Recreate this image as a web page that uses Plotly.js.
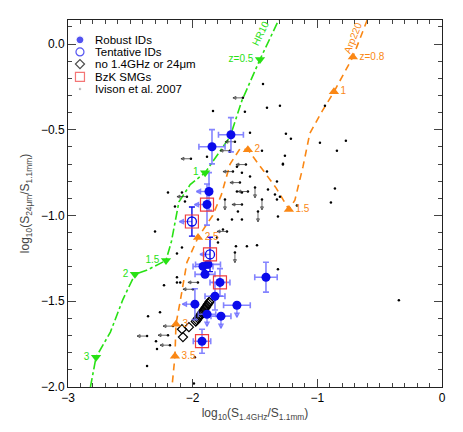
<!DOCTYPE html>
<html>
<head>
<meta charset="utf-8">
<script src="https://cdn.plot.ly/plotly-3.0.1.min.js"></script>
<style>body{margin:0;background:#fff}#chart{width:463px;height:432px}</style>
</head>
<body>
<div id="chart"></div>
<script>
// Robust IDs (blue filled), errors and limits
const robX = [-1.693,-1.845,-1.869,-1.885,-1.877,-1.917,-1.901,-1.781,-1.412,-1.821,-1.982,-1.645,-1.885,-1.773,-1.925];
const robY = [-0.529,-0.599,-0.860,-0.936,-1.285,-1.297,-1.343,-1.390,-1.360,-1.471,-1.517,-1.523,-1.576,-1.587,-1.733];
const robEx = [0.10,0.105,0,0,0.10,0.08,0.08,0.08,0.09,0.08,0,0.107,0.07,0.08,0.07];
const robEy = [0.10,0.10,0.11,0.12,0,0,0,0.08,0.087,0.08,0.09,0,0,0,0.07];
const robLeft = [0,0,0.1,0.1,0,0,0,0,0,0,0.1,0,0,0,0];
const robDown = [0,0,0,0,0,0,0,0,0,0,0,0.07,0.07,0.07,0];

// Tentative IDs (blue open)
const tenX = [-2.006,-1.861];
const tenY = [-1.035,-1.227];
const tenEy = [0.085,0.10];
const tenLeft = [0.1,0.08];

// BzK SMGs (red squares)
const bzkX = [-1.885,-1.781,-1.925,-2.006,-1.861];
const bzkY = [-0.936,-1.390,-1.733,-1.035,-1.227];

// no 1.4GHz or 24um (diamonds)
const diaX = [-1.975,-1.967,-1.958,-1.950,-1.942,-1.934,-1.926,-1.918,-1.909,-1.900,-1.892,-1.884,-1.875,-1.866,-1.856,-2.030,-2.086,-2.078];
const diaY = [-1.618,-1.610,-1.600,-1.594,-1.585,-1.576,-1.568,-1.560,-1.550,-1.541,-1.533,-1.524,-1.514,-1.505,-1.495,-1.651,-1.663,-1.709];

// Ivison et al. 2007
const ivX = [-1.436,-1.404,-1.300,-1.581,-1.837,-1.540,-1.252,-1.212,-0.979,-0.771,-0.843,-1.444,-1.276,-0.939,-0.859,-1.340,-0.891,-1.164,-0.346,-1.885,
  -2.302,-2.126,-2.230,-2.126,-2.358,-2.262,-2.294,-2.366,-2.086,-1.653,-1.484,-2.126,-2.100,-1.316,-2.286,-1.982,-1.990,
  -1.645,-1.605,-1.540,-1.645,-1.605,-1.637,-1.685,-1.797,-1.605,-1.757,-1.300,-1.324,-1.404,-1.396,-1.276,-1.260,-2.086,-2.062,-2.142,-1.797,-1.565,-1.805,-1.316,-1.324,-1.701,-2.198];
const ivY = [-0.233,-0.372,-0.360,-0.395,-0.390,-0.517,-0.523,-0.552,-0.576,-0.564,-0.622,-0.622,-0.698,-0.360,-0.843,-0.878,-0.924,-0.942,-1.494,-0.657,
  -1.093,-1.221,-1.407,-1.360,-1.587,-1.564,-1.733,-1.878,-1.186,-1.180,-1.174,-1.390,-1.390,-1.314,-1.779,-1.826,-1.980,
  -0.715,-0.750,-0.773,-0.860,-0.866,-0.977,-1.023,-1.023,-1.023,-1.081,-0.890,-0.802,-0.744,-0.849,-0.703,-0.651,-0.866,-0.919,-0.948,-1.157,-1.180,-1.128,-1.006,-0.907,-0.628,-0.866];
const ivLX = [-1.597,-1.661,-1.701,-2.014,-1.573,-1.605,-1.725,-1.621,-2.046,-1.958,-1.998,-2.366,-2.198,-2.182,-2.158,-1.677,-1.557];
const ivLY = [-0.314,-0.570,-0.622,-0.669,-0.703,-0.936,-1.093,-0.808,-0.890,-1.390,-1.430,-1.703,-1.698,-1.756,-1.645,-0.744,-0.860];
const ivDX = [-1.500,-1.741,-1.476,-1.661,-1.444];
const ivDY = [-0.837,-0.907,-0.977,-1.215,-0.907];

// HR10 track (green) and redshift markers
const hrX = [-2.82,-2.775,-2.66,-2.56,-2.463,-2.37,-2.214,-2.17,-2.11,-2.02,-1.90,-1.70,-1.605,-1.46,-1.31];
const hrY = [-2.0,-1.826,-1.68,-1.49,-1.343,-1.32,-1.262,-1.15,-0.92,-0.82,-0.75,-0.54,-0.33,-0.09,0.14];
const hrZx = [-1.46,-1.90,-2.214,-2.463,-2.775];
const hrZy = [-0.09,-0.75,-1.262,-1.343,-1.826];
const hrZ = ['z=0.5','1','1.5','2','3'];

// Arp220 track (orange) and redshift markers
const arpX = [-0.60,-0.715,-0.867,-0.96,-1.06,-1.115,-1.18,-1.228,-1.33,-1.45,-1.557,-1.62,-1.70,-1.77,-1.84,-1.957,-2.046,-2.10,-2.134,-2.142,-2.166];
const arpY = [0.14,-0.076,-0.279,-0.39,-0.52,-0.715,-0.91,-0.965,-0.84,-0.72,-0.616,-0.61,-0.70,-0.88,-1.0,-1.128,-1.273,-1.50,-1.634,-1.82,-2.0];
const arpZx = [-0.715,-0.867,-1.228,-1.557,-1.957,-2.134,-2.142];
const arpZy = [-0.076,-0.279,-0.965,-0.616,-1.128,-1.634,-1.82];
const arpZ = ['z=0.8','1','1.5','2','2.5','3','3.5'];

const blue = 'rgb(10,10,235)';
const errBlue = 'rgba(110,110,255,0.85)';
const green = 'rgb(40,225,20)';
const orange = 'rgb(250,135,20)';

function leftLimits(xs, ys, lens, color, th, head) {
  let px = [], py = [], pl = [];
  xs.forEach((x, i) => { if (lens[i] > 0) { px.push(x); py.push(ys[i]); pl.push(lens[i]); } });
  return [
    {x: px, y: py, mode: 'markers', marker: {size: 1, opacity: 0}, hoverinfo: 'skip', showlegend: false,
     error_x: {type: 'data', symmetric: false, array: pl.map(() => 0), arrayminus: pl, width: 0, color: color, thickness: th}},
    {x: px.map((x, i) => x - pl[i]), y: py, mode: 'markers', showlegend: false, hoverinfo: 'skip',
     marker: {symbol: 'arrow-left-open', size: head, color: color, line: {color: color, width: th}}}
  ];
}
function downLimits(xs, ys, lens, color, th, head) {
  let px = [], py = [], pl = [];
  xs.forEach((x, i) => { if (lens[i] > 0) { px.push(x); py.push(ys[i]); pl.push(lens[i]); } });
  return [
    {x: px, y: py, mode: 'markers', marker: {size: 1, opacity: 0}, hoverinfo: 'skip', showlegend: false,
     error_y: {type: 'data', symmetric: false, array: pl.map(() => 0), arrayminus: pl, width: 0, color: color, thickness: th}},
    {x: px, y: py.map((y, i) => y - pl[i]), mode: 'markers', showlegend: false, hoverinfo: 'skip',
     marker: {symbol: 'arrow-down-open', size: head, color: color, line: {color: color, width: th}}}
  ];
}

var data = [
  {x: hrX, y: hrY, mode: 'lines', line: {color: green, width: 1.6, dash: 'dashdot'}, showlegend: false},
  {x: arpX, y: arpY, mode: 'lines', line: {color: orange, width: 1.6, dash: '7px,5px'}, showlegend: false},
  {x: ivX, y: ivY, mode: 'markers', marker: {size: 2.5, color: 'black'}, showlegend: false},
  {x: ivLX, y: ivLY, mode: 'markers', marker: {size: 2.5, color: 'black'}, showlegend: false},
  {x: ivDX, y: ivDY, mode: 'markers', marker: {size: 2.5, color: 'black'}, showlegend: false},
  ...leftLimits(ivLX, ivLY, ivLX.map(() => 0.08), 'rgb(40,40,40)', 0.7, 3),
  ...downLimits(ivDX, ivDY, ivDX.map(() => 0.06), 'rgb(40,40,40)', 0.7, 3),
  {x: diaX, y: diaY, mode: 'markers', showlegend: false,
   marker: {symbol: 'diamond-open', size: 7, color: 'black', line: {width: 1.2}}},
  ...leftLimits(robX, robY, robLeft, errBlue, 1.4, 4),
  ...downLimits(robX, robY, robDown, errBlue, 1.4, 4),
  ...leftLimits(tenX, tenY, tenLeft, errBlue, 1.4, 4),
  {x: robX, y: robY, mode: 'markers', showlegend: false,
   error_x: {type: 'data', array: robEx, width: 3, color: errBlue, thickness: 1.6},
   error_y: {type: 'data', array: robEy, width: 3, color: errBlue, thickness: 1.6},
   marker: {size: 9, color: blue}},
  {x: tenX, y: tenY, mode: 'markers', showlegend: false,
   error_y: {type: 'data', array: tenEy, width: 3, color: blue, thickness: 1.4},
   marker: {symbol: 'circle-open', size: 9, color: blue, line: {width: 1.3}}},
  {x: bzkX, y: bzkY, mode: 'markers', showlegend: false,
   marker: {symbol: 'square-open', size: 13, color: 'rgb(240,60,60)', line: {width: 1.2}}},
  {x: hrZx, y: hrZy, mode: 'markers+text', text: hrZ, textposition: 'middle left', showlegend: false,
   textfont: {color: green, size: 10, family: 'Liberation Sans, Arial, sans-serif'},
   marker: {symbol: 'triangle-down', size: 9, color: green}},
  {x: arpZx, y: arpZy, mode: 'markers+text', text: arpZ, textposition: 'middle right', showlegend: false,
   textfont: {color: orange, size: 10, family: 'Liberation Sans, Arial, sans-serif'},
   marker: {symbol: 'triangle-up', size: 9, color: orange}}
];

// hand-drawn legend on a hidden 0..1 axis pair
const legY = [0.946, 0.913, 0.880, 0.845, 0.812];
const legText = ['Robust IDs', 'Tentative IDs', 'no 1.4GHz or 24\u03bcm', 'BzK SMGs', 'Ivison et al. 2007'];
data.push({x: [0.032, 0.032, 0.032, 0.032, 0.032], y: legY, xaxis: 'x2', yaxis: 'y2', mode: 'markers', showlegend: false, hoverinfo: 'skip',
  marker: {symbol: ['circle', 'circle-open', 'diamond-open', 'square-open', 'circle'],
           size: [8, 8, 7, 9, 2.5],
           color: [blue, blue, 'black', 'rgb(240,60,60)', 'black'],
           line: {width: 1.2}}});

const font = 'Liberation Sans, Arial, sans-serif';
var annotations = legText.map((t, i) => ({
  xref: 'paper', yref: 'paper', x: 0.066, y: legY[i], xanchor: 'left', yanchor: 'middle',
  text: t, showarrow: false, font: {size: 11.5, color: 'black', family: font}
}));
annotations.push({x: -1.455, y: 0.06, text: 'HR10', textangle: -64, showarrow: false, font: {size: 10, color: green, family: font}});
annotations.push({x: -0.715, y: 0.04, text: 'Arp220', textangle: -68, showarrow: false, font: {size: 10, color: orange, family: font}});

var axisCommon = {
  ticks: 'inside', ticklen: 8, tickwidth: 1, tickcolor: '#444', mirror: 'allticks',
  showline: true, linecolor: '#222', linewidth: 1, showgrid: false, zeroline: false,
  tickfont: {size: 12, color: 'black', family: font},
  minor: {dtick: 0.1, ticks: 'inside', ticklen: 4, tickcolor: '#444', showgrid: false}
};

var layout = {
  width: 463, height: 432,
  margin: {l: 68, r: 21, t: 20, b: 45},
  paper_bgcolor: 'white', plot_bgcolor: 'white',
  showlegend: false,
  xaxis: Object.assign({}, axisCommon, {range: [-3, 0], dtick: 1, tick0: 0,
    title: {text: 'log<sub>10</sub>(S<sub>1.4GHz</sub>/S<sub>1.1mm</sub>)', font: {size: 12, family: font}, standoff: 4}}),
  yaxis: Object.assign({}, axisCommon, {range: [-2.0, 0.14], dtick: 0.5, tick0: 0, tickformat: '.1f',
    title: {text: 'log<sub>10</sub>(S<sub>24\u03bcm</sub>/S<sub>1.1mm</sub>)', font: {size: 12, family: font}, standoff: 8}}),
  xaxis2: {range: [0, 1], overlaying: 'x', visible: false, fixedrange: true},
  yaxis2: {range: [0, 1], overlaying: 'y', visible: false, fixedrange: true},
  annotations: annotations
};

Plotly.newPlot('chart', data, layout, {displayModeBar: false, staticPlot: true});
</script>
</body>
</html>
